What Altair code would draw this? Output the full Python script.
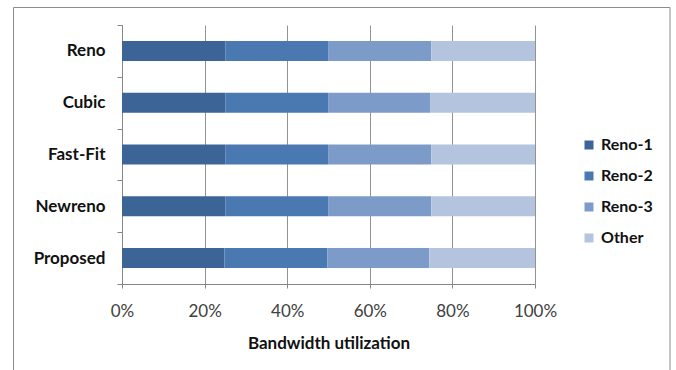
import altair as alt
import pandas as pd

# Share of bandwidth (%) held by each flow, per congestion-control variant
protocols = ["Reno", "Cubic", "Fast-Fit", "Newreno", "Proposed"]
flows = ["Reno-1", "Reno-2", "Reno-3", "Other"]
reno_1 = [25.0, 25.0, 25.0, 25.0, 24.8]
reno_2 = [24.9, 24.9, 24.9, 24.9, 24.9]
reno_3 = [25.0, 24.8, 25.0, 25.0, 24.7]
other = [25.1, 25.3, 25.1, 25.1, 25.6]
flow_colors = ["#3c6496", "#4a78b0", "#7d9bc8", "#b4c3de"]
x_ticks = [0, 0.2, 0.4, 0.6, 0.8, 1.0]

rows = []
for i, p in enumerate(protocols):
    for k, (name, series) in enumerate(zip(flows, [reno_1, reno_2, reno_3, other])):
        rows.append({"protocol": p, "flow": name, "share": series[i], "order": k})
df = pd.DataFrame(rows)

FONT = "Lato"

bars = alt.Chart(df).mark_bar(size=20).encode(
    y=alt.Y(
        "protocol:N",
        sort=protocols,
        scale=alt.Scale(paddingInner=0, paddingOuter=0),
        axis=alt.Axis(
            title=None,
            tickBand="extent",
            tickSize=5,
            tickColor="#868686",
            domainColor="#868686",
            labelFont=FONT,
            labelFontSize=17,
            labelFontWeight="bold",
            labelColor="#111111",
            labelPadding=12,
        ),
    ),
    x=alt.X(
        "share:Q",
        stack="normalize",
        scale=alt.Scale(domain=[0, 1], nice=False),
        axis=alt.Axis(
            values=x_ticks,
            format=".0%",
            labelFlush=False,
            labelOverlap=False,
            title="Bandwidth utilization",
            titleFont=FONT,
            titleFontSize=17,
            titleFontWeight="bold",
            titleColor="#111111",
            titlePadding=16,
            grid=True,
            gridColor="#929292",
            tickSize=4,
            tickColor="#868686",
            domainColor="#868686",
            labelFont=FONT,
            labelFontSize=17,
            labelColor="#404040",
            labelPadding=15,
        ),
    ),
    color=alt.Color(
        "flow:N",
        scale=alt.Scale(domain=flows, range=flow_colors),
        legend=alt.Legend(
            title=None,
            orient="none",
            legendX=459,
            legendY=112,
            symbolType="square",
            symbolSize=81,
            symbolStrokeWidth=0,
            symbolOpacity=1,
            labelFont=FONT,
            labelFontSize=16,
            labelFontWeight="bold",
            labelColor="#111111",
            labelOffset=4,
            rowPadding=15,
        ),
    ),
    order=alt.Order("order:Q"),
)

# Outer frame of the chart area
frame = alt.Chart(pd.DataFrame({"f": [0]})).mark_rect(
    fillOpacity=0, stroke="#8c8c8c", strokeWidth=1
).encode(
    x=alt.value(-108.5), x2=alt.value(548), y=alt.value(-17.5), y2=alt.value(380)
)

chart = alt.layer(frame, bars).properties(
    width=413,
    height=259,
    autosize=alt.AutoSizeParams(type="none"),
    padding={"left": 122, "top": 25, "right": 141, "bottom": 86},
    background="white",
).configure_view(stroke=None)

chart.save("out.html", embed_options={"renderer": "svg", "actions": False})
